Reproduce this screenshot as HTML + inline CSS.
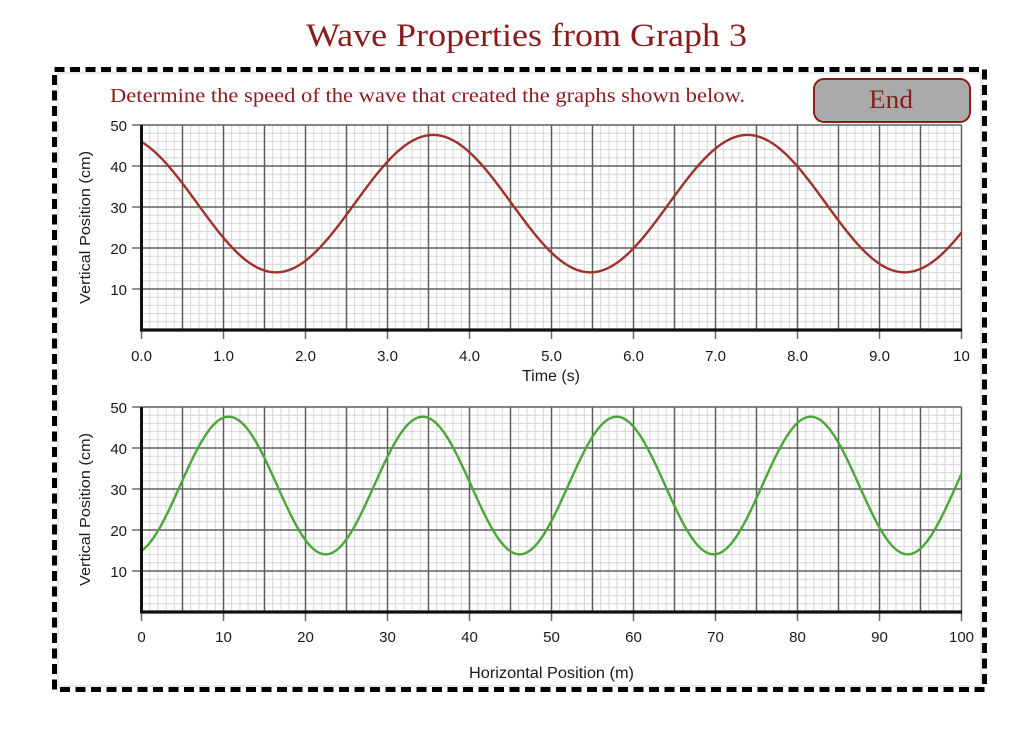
<!DOCTYPE html>
<html>
<head>
<meta charset="utf-8">
<style>
  html, body { margin:0; padding:0; background:#fff; }
  body { width:1024px; height:729px; overflow:hidden; }
  svg { display:block; }
  .serif { font-family: "Liberation Serif", "DejaVu Serif", serif; fill:#8b1c1c; }
  .sans { font-family: "Liberation Sans", "DejaVu Sans", sans-serif; fill:#1a1a1a; }
</style>
</head>
<body>
<svg id="s" width="1024" height="729" viewBox="0 0 1024 729" xmlns="http://www.w3.org/2000/svg">
  <rect x="0" y="0" width="1024" height="729" fill="#fff"/>
  <!-- title -->
  <text class="serif" x="306" y="46" font-size="33" textLength="441" lengthAdjust="spacingAndGlyphs">Wave Properties from Graph 3</text>

  <!-- inner light line -->
  <rect x="58" y="73" width="923" height="613" fill="none" stroke="#d0d0d0" stroke-width="1"/>
  <!-- dashed border -->
  <rect x="54.5" y="69.5" width="930" height="620" fill="none" stroke="#000" stroke-width="5" stroke-dasharray="10 5.5"/>

  <!-- subtitle -->
  <text class="serif" x="110" y="102" font-size="20" textLength="635" lengthAdjust="spacingAndGlyphs">Determine the speed of the wave that created the graphs shown below.</text>

  <!-- End button -->
  <rect x="814" y="79" width="156" height="43" rx="10" ry="10" fill="#aaaaaa" stroke="#8b1c1c" stroke-width="2"/>
  <text class="serif" x="869" y="108" font-size="26" textLength="44" lengthAdjust="spacingAndGlyphs">End</text>

  <g id="plots"></g>

  <!-- axis titles -->
  <text class="sans" x="0" y="0" font-size="15" textLength="153" lengthAdjust="spacingAndGlyphs" transform="translate(90,304) rotate(-90)">Vertical Position (cm)</text>
  <text class="sans" x="0" y="0" font-size="15" textLength="153" lengthAdjust="spacingAndGlyphs" transform="translate(90,586) rotate(-90)">Vertical Position (cm)</text>
  <text class="sans" x="522" y="381" font-size="15.5" textLength="58" lengthAdjust="spacingAndGlyphs">Time (s)</text>
  <text class="sans" x="469" y="678" font-size="15.5" textLength="165" lengthAdjust="spacingAndGlyphs">Horizontal Position (m)</text>

  <!-- top x labels -->
  <g class="sans" font-size="15" text-anchor="middle">
    <text x="141.5" y="361">0.0</text>
    <text x="223.5" y="361">1.0</text>
    <text x="305.5" y="361">2.0</text>
    <text x="387.5" y="361">3.0</text>
    <text x="469.5" y="361">4.0</text>
    <text x="551.5" y="361">5.0</text>
    <text x="633.5" y="361">6.0</text>
    <text x="715.5" y="361">7.0</text>
    <text x="797.5" y="361">8.0</text>
    <text x="879.5" y="361">9.0</text>
    <text x="961.5" y="361">10</text>
  </g>
  <g class="sans" font-size="15" text-anchor="end">
    <text x="127" y="131">50</text>
    <text x="127" y="172">40</text>
    <text x="127" y="213">30</text>
    <text x="127" y="254">20</text>
    <text x="127" y="295">10</text>
  </g>
  <!-- bottom x labels -->
  <g class="sans" font-size="15" text-anchor="middle">
    <text x="141.5" y="642">0</text>
    <text x="223.5" y="642">10</text>
    <text x="305.5" y="642">20</text>
    <text x="387.5" y="642">30</text>
    <text x="469.5" y="642">40</text>
    <text x="551.5" y="642">50</text>
    <text x="633.5" y="642">60</text>
    <text x="715.5" y="642">70</text>
    <text x="797.5" y="642">80</text>
    <text x="879.5" y="642">90</text>
    <text x="961.5" y="642">100</text>
  </g>
  <g class="sans" font-size="15" text-anchor="end">
    <text x="127" y="413">50</text>
    <text x="127" y="454">40</text>
    <text x="127" y="495">30</text>
    <text x="127" y="536">20</text>
    <text x="127" y="577">10</text>
  </g>
</svg>
<script>
(function(){
  var NS="http://www.w3.org/2000/svg";
  var g=document.getElementById("plots");
  function el(name, attrs){ var e=document.createElementNS(NS,name); for(var k in attrs) e.setAttribute(k,attrs[k]); g.appendChild(e); return e; }
  function plot(top, color, fn){
    var L=141.5, R=961.5, T=top, B=top+205;
    // minor grid
    var d="";
    for(var i=0;i<=100;i++){ if(i%5===0) continue; var x=L+8.2*i; d+="M"+x.toFixed(2)+" "+T+"V"+B; }
    for(var j=0;j<=25;j++){ if(j%5===0) continue; var y=T+8.2*j; d+="M"+L+" "+y.toFixed(2)+"H"+R; }
    el("path",{d:d,stroke:"#d6d6d6","stroke-width":"1",fill:"none"});
    // major grid
    d="";
    for(var i=1;i<=20;i++){ var x=L+41*i; d+="M"+x+" "+T+"V"+B; }
    for(var j=0;j<5;j++){ var y=T+41*j; d+="M"+L+" "+y+"H"+R; }
    el("path",{d:d,stroke:"#5e5e5e","stroke-width":"1.5",fill:"none"});
    // left ticks
    d="";
    for(var j=0;j<5;j++){ var y=T+41*j; d+="M132 "+y+"H"+L; }
    // bottom ticks
    for(var i=0;i<=10;i++){ var x=L+82*i; d+="M"+x+" "+B+"V"+(B+9); }
    el("path",{d:d,stroke:"#6a6a6a","stroke-width":"1.5",fill:"none"});
    // curve
    var pts=[];
    for(var k=0;k<=820;k++){ var px=L+k; var py=B-4.1*fn(k/820); pts.push(px.toFixed(2)+","+py.toFixed(2)); }
    el("polyline",{points:pts.join(" "),stroke:color,"stroke-width":"2.4",fill:"none","stroke-linejoin":"round"});
    // axes
    el("path",{d:"M"+L+" "+(T)+"V"+(B+1.5),stroke:"#111","stroke-width":"3",fill:"none"});
    el("path",{d:"M"+(L-1.5)+" "+B+"H"+(R+0.5),stroke:"#111","stroke-width":"3.3",fill:"none"});
  }
  plot(125,"#a0302a",function(u){ var t=u*10; return 30.82+16.75*Math.cos(2*Math.PI*(t-3.557)/3.833); });
  plot(407,"#4ba735",function(u){ var x=u*100; return 30.85+16.78*Math.cos(2*Math.PI*(x-10.63)/23.66); });
})();
</script>
</body>
</html>
